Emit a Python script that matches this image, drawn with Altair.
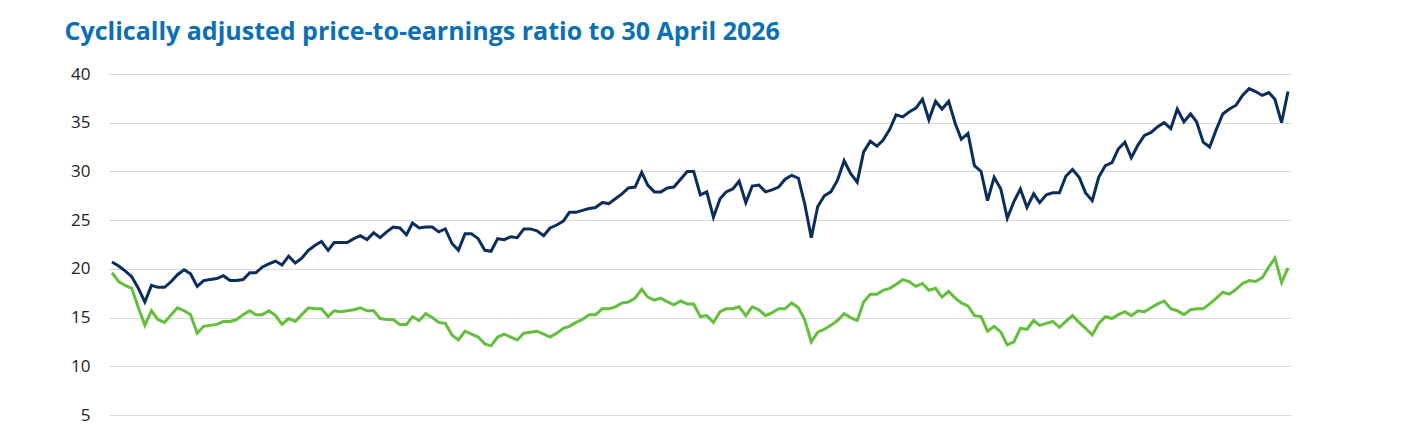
import pandas as pd
import altair as alt

# month-end observations, April 2011 to April 2026
months = pd.date_range("2011-04-30", "2026-04-30", freq="ME")

series_names = ["US", "Rest of world"]
series_colors = ["#0b2d5b", "#64bf3c"]
y_ticks = [5, 10, 15, 20, 25, 30, 35, 40]

navy_cape = [
    20.7, 20.3, 19.8, 19.2, 18.0, 16.6, 18.3, 18.1, 18.1, 18.7,
    19.4, 19.9, 19.5, 18.2, 18.8, 18.9, 19.0, 19.3, 18.8, 18.8,
    18.9, 19.6, 19.6, 20.2, 20.5, 20.8, 20.4, 21.3, 20.6, 21.1,
    21.9, 22.4, 22.8, 21.9, 22.7, 22.7, 22.7, 23.1, 23.4, 23.0,
    23.7, 23.2, 23.8, 24.3, 24.2, 23.5, 24.7, 24.2, 24.3, 24.3,
    23.8, 24.1, 22.6, 21.9, 23.6, 23.6, 23.1, 21.9, 21.8, 23.1,
    23.0, 23.3, 23.2, 24.1, 24.1, 23.9, 23.4, 24.2, 24.5, 24.9,
    25.8, 25.8, 26.0, 26.2, 26.3, 26.8, 26.7, 27.2, 27.7, 28.3,
    28.4, 29.9, 28.6, 27.9, 27.9, 28.3, 28.4, 29.2, 30.0, 30.0,
    27.6, 27.9, 25.3, 27.2, 27.9, 28.2, 29.0, 26.8, 28.5, 28.6,
    27.9, 28.1, 28.4, 29.2, 29.6, 29.3, 26.7, 23.2, 26.4, 27.5,
    27.9, 29.1, 31.1, 29.8, 28.9, 32.0, 33.1, 32.6, 33.2, 34.3,
    35.8, 35.6, 36.1, 36.5, 37.4, 35.3, 37.2, 36.4, 37.2, 34.9,
    33.3, 33.9, 30.6, 30.0, 27.0, 29.4, 28.2, 25.2, 26.9, 28.2,
    26.3, 27.7, 26.8, 27.6, 27.8, 27.8, 29.5, 30.2, 29.4, 27.8,
    27.0, 29.4, 30.6, 30.9, 32.3, 33.0, 31.4, 32.7, 33.7, 34.0,
    34.6, 35.0, 34.4, 36.4, 35.1, 35.9, 35.1, 33.0, 32.5, 34.3,
    35.9, 36.4, 36.8, 37.8, 38.5, 38.2, 37.8, 38.1, 37.4, 35.0,
    38.2,
]

green_cape = [
    19.6, 18.7, 18.3, 18.0, 16.0, 14.2, 15.7, 14.8, 14.5, 15.3,
    16.0, 15.7, 15.3, 13.4, 14.1, 14.2, 14.3, 14.6, 14.6, 14.8,
    15.3, 15.7, 15.3, 15.3, 15.7, 15.2, 14.3, 14.9, 14.6, 15.3,
    16.0, 15.9, 15.9, 15.1, 15.7, 15.6, 15.7, 15.8, 16.0, 15.7,
    15.7, 14.9, 14.8, 14.8, 14.3, 14.3, 15.1, 14.7, 15.4, 15.0,
    14.5, 14.4, 13.2, 12.7, 13.6, 13.3, 13.0, 12.3, 12.1, 13.0,
    13.3, 13.0, 12.7, 13.4, 13.5, 13.6, 13.3, 13.0, 13.4, 13.9,
    14.1, 14.5, 14.8, 15.3, 15.3, 15.9, 15.9, 16.1, 16.5, 16.6,
    17.0, 17.9, 17.1, 16.8, 17.0, 16.6, 16.3, 16.7, 16.4, 16.4,
    15.1, 15.2, 14.5, 15.6, 15.9, 15.9, 16.1, 15.2, 16.1, 15.8,
    15.2, 15.5, 15.9, 15.9, 16.5, 16.0, 14.8, 12.5, 13.5, 13.8,
    14.2, 14.7, 15.4, 15.0, 14.7, 16.6, 17.4, 17.4, 17.8, 18.0,
    18.4, 18.9, 18.7, 18.2, 18.5, 17.8, 18.0, 17.1, 17.7, 17.0,
    16.5, 16.2, 15.2, 15.1, 13.6, 14.1, 13.5, 12.2, 12.5, 13.9,
    13.8, 14.7, 14.2, 14.4, 14.6, 14.0, 14.6, 15.2, 14.5, 13.9,
    13.2, 14.4, 15.1, 14.9, 15.3, 15.6, 15.2, 15.7, 15.6, 16.0,
    16.4, 16.7, 15.9, 15.7, 15.3, 15.8, 15.9, 15.9, 16.4, 17.0,
    17.6, 17.4, 17.9, 18.5, 18.8, 18.7, 19.1, 20.2, 21.1, 18.6,
    20.1,
]

df = pd.DataFrame({
    "month": list(months) * 2,
    "series": [series_names[0]] * len(months) + [series_names[1]] * len(months),
    "cape": navy_cape + green_cape,
})

chart = alt.Chart(df).mark_line(strokeWidth=3).encode(
    x=alt.X("month:T", axis=None, scale=alt.Scale(nice=False, padding=3)),
    y=alt.Y(
        "cape:Q",
        scale=alt.Scale(domain=[5, 40], nice=False, zero=False),
        axis=alt.Axis(
            values=y_ticks,
            title=None,
            domain=False,
            ticks=False,
            tickSize=0,
            labelPadding=19,
            labelFontSize=17,
            labelFont="Open Sans",
            labelColor="#222222",
            gridColor="#d9d9d9",
            gridWidth=1,
        ),
    ),
    color=alt.Color(
        "series:N",
        scale=alt.Scale(domain=series_names, range=series_colors),
        legend=None,
    ),
).properties(
    width=1182,
    height=341,
    title=alt.TitleParams(
        "Cyclically adjusted price-to-earnings ratio to 30 April 2026",
        anchor="start",
        dx=-6,
        offset=20,
        font="Open Sans",
        fontSize=25,
        fontWeight="bold",
        color="#0a6fb5",
    ),
    padding={"left": 101, "top": 66, "right": 10, "bottom": 14},
    autosize="none",
).configure_view(stroke=None)

chart.save("out.html", embed_options={"renderer": "svg", "actions": False})
